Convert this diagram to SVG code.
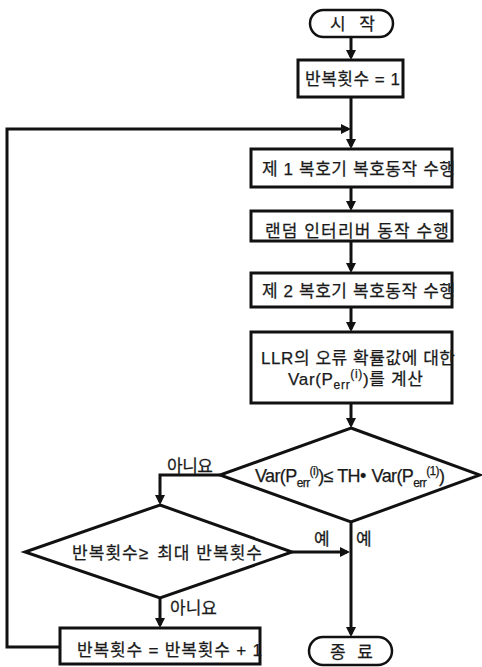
<svg xmlns="http://www.w3.org/2000/svg" width="482" height="667" viewBox="0 0 482 667">
<style>
.box{fill:#fff;stroke:#111;stroke-width:3}
.term{fill:#fff;stroke:#111;stroke-width:2.5}
.conn{fill:none;stroke:#111;stroke-width:3;marker-end:url(#arr)}
.t{font-family:"Liberation Sans","Noto Sans CJK KR",sans-serif;font-size:17px;fill:#1a1a1a;stroke:#1a1a1a;stroke-width:0.25}
.m{font-size:18px}
.s{font-size:12px}
</style>
<defs>
<marker id="arr" viewBox="0 0 10 10" refX="7" refY="5" markerWidth="10" markerHeight="10" markerUnits="userSpaceOnUse" orient="auto">
<path d="M0,0 L10,5 L0,10 z" fill="#111"/>
</marker>
</defs>
<rect width="482" height="667" fill="#fff"/>
<g id="connectors">
<path class="conn" d="M351,37 V57"/>
<path class="conn" d="M351,97 V146"/>
<path class="conn" d="M60,647 H7 V129 H348"/>
<path class="conn" d="M351,187 V208"/>
<path class="conn" d="M351,241 V270"/>
<path class="conn" d="M351,307 V329"/>
<path class="conn" d="M351,403 V425"/>
<path class="conn" d="M220,475 H160 V502"/>
<path class="conn" d="M292,552 H347"/>
<path class="conn" d="M351,522 V634"/>
<path class="conn" d="M160,598 V625"/>
</g>
<g id="start">
<rect class="term" x="310" y="10" width="83" height="27" rx="13.5"/>
<text class="t" x="330" y="30" textLength="45" lengthAdjust="spacing">시 작</text>
</g>
<g id="init">
<rect class="box" x="298" y="60" width="105" height="37"/>
<text class="t" x="305" y="85" textLength="95" lengthAdjust="spacing">반복횟수 = 1</text>
</g>
<g id="dec1">
<rect class="box" x="251" y="149" width="201" height="38"/>
<text class="t" x="262" y="174.5" textLength="193" lengthAdjust="spacing">제 1 복호기 복호동작 수행</text>
</g>
<g id="interleave">
<rect class="box" x="251" y="211" width="201" height="30"/>
<text class="t" x="265" y="236.5" textLength="184" lengthAdjust="spacing">랜덤 인터리버 동작 수행</text>
</g>
<g id="dec2">
<rect class="box" x="251" y="273" width="201" height="34"/>
<text class="t" x="262" y="296.5" textLength="193" lengthAdjust="spacing">제 2 복호기 복호동작 수행</text>
</g>
<g id="llr">
<rect class="box" x="251" y="332" width="201" height="71"/>
<text class="t" x="261" y="363.5" textLength="194" lengthAdjust="spacing">LLR의 오류 확률값에 대한</text>
<text class="t" x="288" y="385" textLength="135" lengthAdjust="spacing">Var(P<tspan class="s" dy="4">err</tspan><tspan class="s" dy="-11">(i)</tspan><tspan dy="7">)를 계산</tspan></text>
</g>
<g id="cond1">
<polygon class="box" points="351,428 480,475 351,522 220,475"/>
<text class="t m" x="255" y="482" textLength="190" lengthAdjust="spacing">Var(P<tspan class="s" dy="5">err</tspan><tspan class="s" dy="-12">(i)</tspan><tspan dy="7">)≤ TH•</tspan><tspan dx="6">Var(P</tspan><tspan class="s" dy="5">err</tspan><tspan class="s" dy="-12">(1)</tspan><tspan dy="7">)</tspan></text>
</g>
<g id="cond2">
<polygon class="box" points="160,505 292,552 160,598 25,552"/>
<text class="t" x="72" y="558.5" textLength="190" lengthAdjust="spacing">반복횟수≥<tspan dx="8">최대 반복횟수</tspan></text>
</g>
<g id="incr">
<rect class="box" x="60" y="628" width="200" height="36"/>
<text class="t" x="77" y="655.5" textLength="185" lengthAdjust="spacing">반복횟수 = 반복횟수 + 1</text>
</g>
<g id="end">
<rect class="term" x="309" y="637" width="83" height="28" rx="14"/>
<text class="t" x="330" y="658" textLength="43" lengthAdjust="spacing">종 료</text>
</g>
<g id="labels">
<text class="t" x="167" y="472" textLength="46" lengthAdjust="spacing">아니요</text>
<text class="t" x="314" y="545">예</text>
<text class="t" x="356" y="545">예</text>
<text class="t" x="170" y="614" textLength="47" lengthAdjust="spacing">아니요</text>
</g>
</svg>
